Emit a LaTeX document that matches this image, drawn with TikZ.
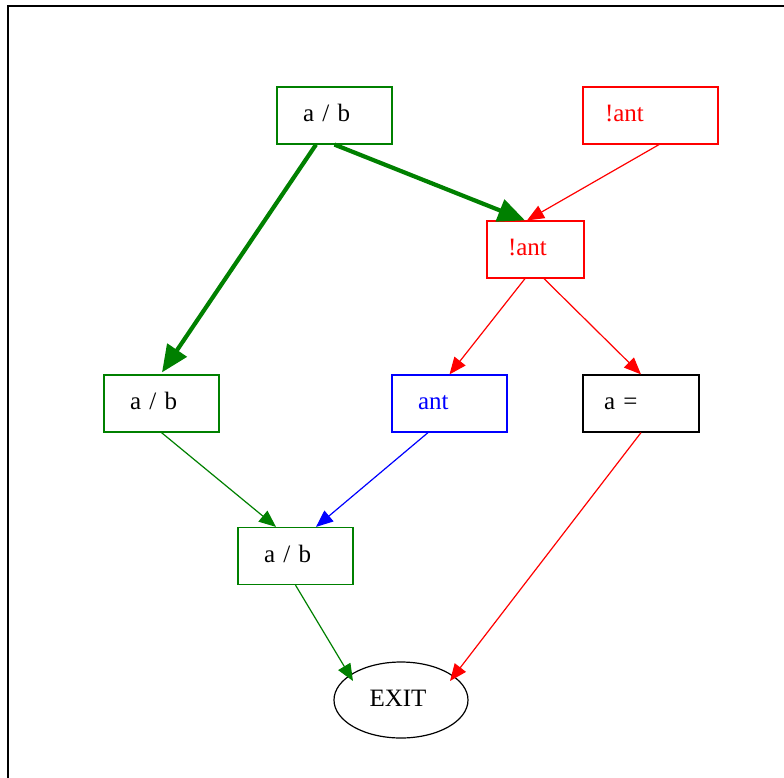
\documentclass[tikz,border=0pt]{standalone}
\usepackage{fontspec}
\setmainfont{Liberation Serif}
\usetikzlibrary{arrows.meta,shapes.geometric,calc}
\definecolor{dgreen}{RGB}{0,128,0}
\begin{document}
\begin{tikzpicture}[x=1pt,y=-1pt,
  font=\fontsize{25}{30}\selectfont,
  box/.style={draw, line width=1.2pt, minimum height=57pt, inner ysep=0pt,
    align=left, text height=1.5em, text depth=0.22em, inner xsep=26pt, text width=63pt},
  thin/.style={line width=1.2pt, -{Triangle[length=17pt,width=14pt]}},
  thick/.style={line width=4.2pt, -{Triangle[length=27pt,width=23pt]}}]
  \useasboundingbox (0,0) rectangle (784,777);
  \clip (0,0) rectangle (784,777);
  % outer frame
  \draw[line width=1.5pt] (8,6) rectangle (900,900);

  % nodes
  \node[box, draw=dgreen] (A1) at (334.5,115.5) {a / b};
  \node[box, draw=red, text=red, inner xsep=22pt, text width=91pt] (N1) at (650.5,115.5) {!ant};
  \node[box, draw=red, text=red, inner xsep=21pt, text width=55pt] (N2) at (535.5,249.5) {!ant};
  \node[box, draw=dgreen] (A2) at (161.5,403.5) {a / b};
  \node[box, draw=blue, text=blue] (ANT) at (449.5,403.5) {ant};
  \node[box, draw=black, inner xsep=21pt, text width=74pt] (AEQ) at (641,403.5) {a =};
  \node[box, draw=dgreen] (A3) at (295.5,556) {a / b};
  \node[draw, line width=1.2pt, ellipse, minimum width=134pt, minimum height=76pt, inner sep=0pt]
    (EXIT) at (401,700) {};
  \node at ($(EXIT.center)+(-3,-2)$) {EXIT};

  % connectors
  \draw[thick, dgreen] (A1.south) -- ($(N2.north)+(-10.5,0)$);
  \draw[thick, dgreen] ($(A1.south)+(-18.5,0)$) -- ($(A2.north)+(0.5,-2)$);
  \draw[thin, red] ($(N1.south)+(8.5,0)$) -- ($(N2.north)+(-8.5,0)$);
  \draw[thin, red] ($(N2.south)+(-10.5,0)$) -- (ANT.north);
  \draw[thin, red] ($(N2.south)+(8.5,0)$) -- (AEQ.north);
  \draw[thin, dgreen] (A2.south) -- ($(A3.north)+(-19.5,0)$);
  \draw[thin, blue] ($(ANT.south)+(-21.5,0)$) -- ($(A3.north)+(20.5,0)$);
  \draw[thin, red] (AEQ.south) -- ($(EXIT.center)+(49,-19)$);
  \draw[thin, dgreen] (A3.south) -- ($(EXIT.center)+(-48,-19)$);
\end{tikzpicture}
\end{document}
